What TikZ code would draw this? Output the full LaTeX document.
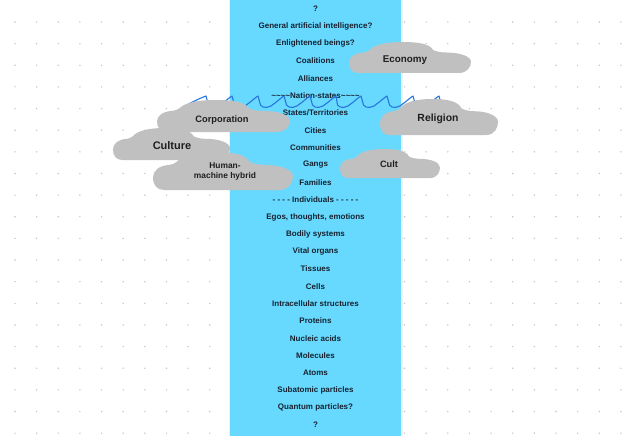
\documentclass[tikz,border=0pt]{standalone}
\usepackage{fontspec}
\setmainfont{Liberation Sans}
\definecolor{colblue}{RGB}{104,217,254}
\definecolor{cloudgray}{RGB}{192,192,192}
\definecolor{dotgray}{RGB}{198,198,198}
\definecolor{textnavy}{RGB}{22,34,48}
\definecolor{squig}{RGB}{38,118,222}
\newcommand\cloudshape[4]{%
  \begin{scope}[shift={(#1,#2)},xscale=#3,yscale=-#4]
    \fill[cloudgray] (0.08,0) -- (0.9,0)
      .. controls (0.97,0) and (1,0.2) .. (1,0.36)
      .. controls (1,0.55) and (0.9,0.66) .. (0.8,0.66)
      .. controls (0.75,0.66) and (0.71,0.7) .. (0.69,0.74)
      .. controls (0.66,0.95) and (0.56,1) .. (0.44,1)
      .. controls (0.3,1) and (0.2,0.9) .. (0.17,0.74)
      .. controls (0.15,0.69) and (0.13,0.66) .. (0.115,0.66)
      .. controls (0.04,0.64) and (0,0.5) .. (0,0.33)
      .. controls (0,0.12) and (0.03,0) .. (0.08,0) -- cycle;
  \end{scope}}
\tikzset{
  lvl/.style={font=\bfseries\fontsize{8}{9.6}\selectfont, text=textnavy, inner sep=0pt, anchor=center},
  cloudlbl/.style={text=black!88, inner sep=0pt, align=center},
}
\begin{document}
\begin{tikzpicture}[x=1pt,y=-1pt]
\useasboundingbox (0,0) rectangle (640,436);
\fill[white] (0,0) rectangle (640,436);
% dot grid
\foreach \i in {0,...,28}{
  \foreach \j in {0,...,19}{
    \fill[dotgray] (15+21.64*\i,22+21.64*\j) circle[radius=0.8];
  }
}
% column
\fill[black!6] (228.5,-1) rectangle (402.5,437);
\fill[colblue] (230,-1) rectangle (401,437);
% levels
\foreach \t [count=\k from 0] in {%
  ?,
  General artificial intelligence?,
  Enlightened beings?,
  Coalitions,
  Alliances,
  \textasciitilde\textasciitilde\textasciitilde\textasciitilde Nation-states\textasciitilde\textasciitilde\textasciitilde\textasciitilde,
  States/Territories,
  Cities,
  Communities,
  Gangs,
  Families,
  - - - - Individuals - - - - -,
  {Egos, thoughts, emotions},
  Bodily systems,
  Vital organs,
  Tissues,
  Cells,
  Intracellular structures,
  Proteins,
  Nucleic acids,
  Molecules,
  Atoms,
  Subatomic particles,
  Quantum particles?,
  ?}{
  \node[lvl] (lvl\k) at (315.5,9+17.333*\k) {\t};
}
% squiggle
\draw[squig, line width=1.1pt, line cap=round, line join=round]
  (182,108) .. controls (188,104) and (198,99) .. (206,96)
  \foreach \p in {206,232,258,284,310,335,361,387,413}{
    -- (\p+2.5,105) .. controls (\p+5,109) and (\p+12,108) .. (\p+17,103)
    .. controls (\p+21,100) and (\p+24,97) .. (\p+26,96)
  }
  -- (441,104);
% clouds
\cloudshape{349}{73}{122}{31}
\cloudshape{380}{135}{118}{36}
\cloudshape{157}{132}{133}{32}
\cloudshape{113}{160}{117}{32}
\cloudshape{153}{190}{140}{38}
\cloudshape{340}{178}{100}{29}
% cloud labels
\node[cloudlbl, font=\bfseries\fontsize{9.8}{12}\selectfont] (economy) at (405,60) {Economy};
\node[cloudlbl, font=\bfseries\fontsize{10.4}{12}\selectfont] (religion) at (438,119) {Religion};
\node[cloudlbl, font=\bfseries\fontsize{9.3}{12}\selectfont] (corporation) at (222,120) {Corporation};
\node[cloudlbl, font=\bfseries\fontsize{11}{13}\selectfont] (culture) at (172,146) {Culture};
\node[cloudlbl, font=\bfseries\fontsize{8.4}{10}\selectfont] (hybrid) at (225,171) {Human-\\machine hybrid};
\node[cloudlbl, font=\bfseries\fontsize{9.2}{11}\selectfont] (cult) at (389,164) {Cult};
\end{tikzpicture}
\end{document}
